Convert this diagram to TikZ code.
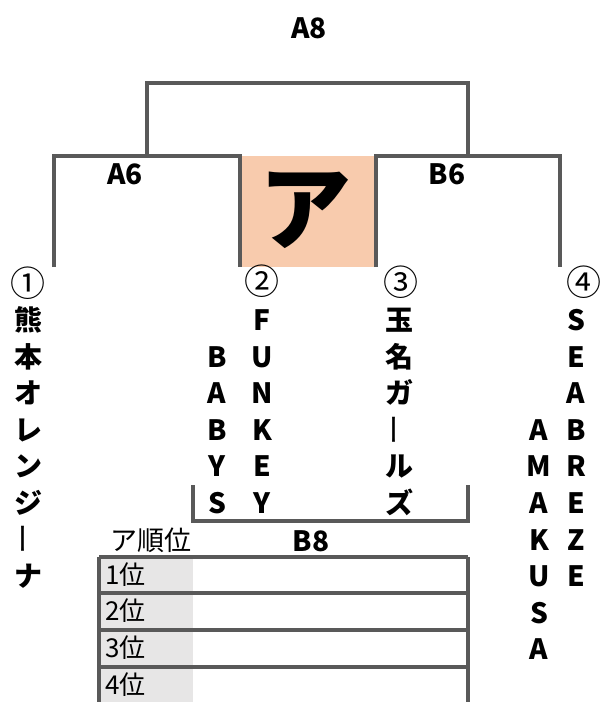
\documentclass[tikz,border=0pt]{standalone}
\usepackage{fontspec}
\setmainfont{Noto Sans CJK JP}
\definecolor{ln}{RGB}{89,89,89}
\definecolor{org}{RGB}{248,203,173}
\definecolor{cellgray}{RGB}{231,230,230}
\begin{document}
\begin{tikzpicture}[x=1pt,y=-1pt,
  br/.style={draw=ln,line width=3.2pt},
  lbl/.style={font=\fontsize{28}{30}\selectfont\bfseries,inner sep=0pt},
  ch/.style={font=\fontsize{28}{30}\selectfont\bfseries,inner sep=0pt,text height=24.4pt,text depth=3.6pt},
  bar/.style={font=\fontsize{30}{30}\selectfont,inner sep=0pt,rotate=90,xscale=1.05},
  num/.style={font=\fontsize{35}{36}\selectfont,inner sep=0pt},
  cell/.style={font=\fontsize{26}{28}\selectfont,inner sep=0pt,anchor=west}
]
\useasboundingbox (0,0) rectangle (602,702);

% orange box
\fill[org] (240,156) rectangle (376,267);
\node[font=\fontsize{92}{94}\selectfont\bfseries,inner sep=0pt] (kana) at (305,210) {ア};

% bracket coordinates
\coordinate (t1) at (147,157); \coordinate (t2) at (147,83);
\coordinate (t3) at (468,83);  \coordinate (t4) at (468,157);
\coordinate (l1) at (54,267);  \coordinate (l2) at (54,156);
\coordinate (l3) at (240,156); \coordinate (l4) at (240,267);
\coordinate (r1) at (376,267); \coordinate (r2) at (376,156);
\coordinate (r3) at (560,156); \coordinate (r4) at (560,267);
\coordinate (b1) at (193,485); \coordinate (b2) at (193,521);
\coordinate (b3) at (468,521); \coordinate (b4) at (468,485);

\draw[br] (t1) -- (t2) -- (t3) -- (t4);
\draw[br] (l1) -- (l2) -- (l3) -- (l4);
\draw[br] (r1) -- (r2) -- (r3) -- (r4);
\draw[br] (b1) -- (b2) -- (b3) -- (b4);

% labels
\node[lbl] (a8) at (309,28) {A8};
\node[lbl] (a6) at (125,174) {A6};
\node[lbl] (b6) at (447,174) {B6};
\node[lbl] (b8) at (311,541) {B8};

% seeds
\node[num] (n1) at (28,283) {①};
\node[num] (n2) at (262,281) {②};
\node[num] (n3) at (401,282) {③};
\node[num] (n4) at (584,282) {④};

% vertical team names
\foreach \c [count=\i from 0] in {熊,本,オ,レ,ン,ジ}
  \node[ch] (ka\i) at (28,320+36.6*\i) {\c};
\node[bar] (ka6) at (28,539) {ー};
\node[ch] (ka7) at (28,576.2) {ナ};
\foreach \c [count=\i from 0] in {F,U,N,K,E,Y}
  \node[ch] (fu\i) at (262,320+36.6*\i) {\c};
\foreach \c [count=\i from 1] in {B,A,B,Y,S}
  \node[ch] (ba\i) at (217,320+36.6*\i) {\c};
\foreach \c [count=\i from 0] in {玉,名,ガ}
  \node[ch] (ta\i) at (399,320+36.6*\i) {\c};
\node[bar] (ta3) at (399,430) {ー};
\foreach \c [count=\i from 4] in {ル,ズ}
  \node[ch] (ta\i) at (399,320+36.6*\i) {\c};
\foreach \c [count=\i from 0] in {S,E,A,B,R,E,Z,E}
  \node[ch] (se\i) at (576,320+36.6*\i) {\c};
\foreach \c [count=\i from 3] in {A,M,A,K,U,S,A}
  \node[ch] (am\i) at (539,320+36.6*\i) {\c};

% ranking table
\node[font=\fontsize{27}{29}\selectfont,inner sep=0pt] (rank) at (151,540) {ア順位};
\fill[cellgray] (99,557) rectangle (193,706);
\coordinate (h1a) at (99,557); \coordinate (h1b) at (468,557);
\coordinate (h2a) at (99,593); \coordinate (h2b) at (468,593);
\coordinate (h3a) at (99,630); \coordinate (h3b) at (468,630);
\coordinate (h4a) at (99,667); \coordinate (h4b) at (468,667);
\coordinate (vla) at (99,557); \coordinate (vlb) at (99,708);
\coordinate (vra) at (468,557); \coordinate (vrb) at (468,708);
\draw[br] (h1a) -- (h1b);
\draw[br] (h2a) -- (h2b);
\draw[br] (h3a) -- (h3b);
\draw[br] (h4a) -- (h4b);
\draw[br] (vla) -- (vlb);
\draw[br] (vra) -- (vrb);
\node[cell] (p1) at (105,575) {1位};
\node[cell] (p2) at (105,611) {2位};
\node[cell] (p3) at (105,648) {3位};
\node[cell] (p4) at (105,685) {4位};
\end{tikzpicture}
\end{document}
